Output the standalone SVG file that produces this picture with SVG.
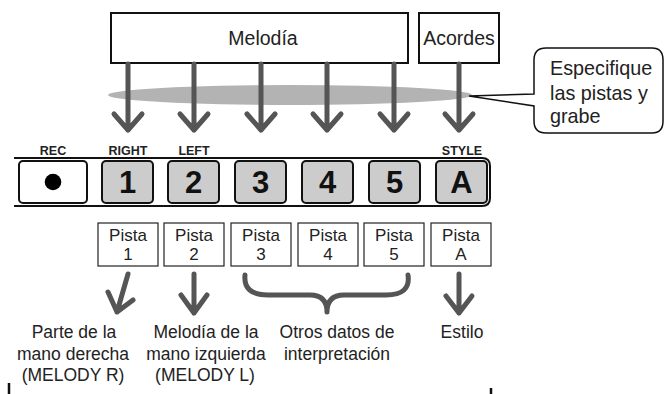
<svg xmlns="http://www.w3.org/2000/svg" width="664" height="394" viewBox="0 0 664 394">
<style>
text{font-family:"Liberation Sans",Arial,sans-serif;fill:#222}
.t19{font-size:19.5px;text-anchor:middle}
.t17{font-size:17.5px;text-anchor:middle}
.tp{font-size:17px;text-anchor:middle}
.tc{font-size:19.8px}
.lbl{font-size:12.5px;text-anchor:middle;font-weight:bold;fill:#222}
.num{font-size:31px;font-weight:bold;text-anchor:middle;fill:#111}
.box{fill:#fff;stroke:#111;stroke-width:2}
.pbox{fill:#fff;stroke:#222;stroke-width:1.2}
.btn{fill:#ccc;stroke:#111;stroke-width:2}
.arr{fill:none;stroke:#555;stroke-width:5;stroke-linecap:round;stroke-linejoin:round}
</style>
<defs>
<path id="down" d="M0,0 V66 M-14,50 L0,66 L14,50"/>
</defs>
<ellipse id="band" cx="290" cy="95" rx="182" ry="10" fill="#b3b3b3"/>
<g id="melodia"><rect class="box" x="111" y="13" width="297" height="50"/><text class="t19" x="263" y="45">Melodía</text></g>
<g id="acordes"><rect class="box" x="419" y="13" width="80" height="50"/><text class="t19" x="459" y="45">Acordes</text></g>
<g id="callout">
<path d="M546,48 H652 Q663,48 663,60 V121 Q663,133 652,133 H546 Q534,133 534,121 V106 L469,96 L534,94 V60 Q534,48 546,48 Z" fill="#fff" stroke="#111" stroke-width="1.5"/>
<text class="tc" x="550" y="75">Especifique</text>
<text class="tc" x="550" y="100">las pistas y</text>
<text class="tc" x="550" y="123">grabe</text>
</g>
<g id="connectors">
<use href="#down" class="arr" x="128" y="64"/>
<use href="#down" class="arr" x="194" y="64"/>
<use href="#down" class="arr" x="261" y="64"/>
<use href="#down" class="arr" x="327" y="64"/>
<use href="#down" class="arr" x="394" y="64"/>
<use href="#down" class="arr" x="459" y="64"/>
<path class="arr" d="M128,274 L117,312 M108,292 L117,312 L133,300"/>
<path class="arr" d="M194,274 V313 M181,295 L194,313 L207,295"/>
<path class="arr" d="M459,274 V313 M446,296 L459,313 L472,296"/>
<path class="arr" d="M245,275 Q243,295 268,295 H310 Q327,295 327,312 Q327,295 344,295 H386 Q411,295 408,275"/>
</g>
<g id="bar"><path d="M14,158 H482 Q490,158 490,166 V198 Q490,206 482,206 H14" fill="none" stroke="#111" stroke-width="2"/></g>
<g id="rec"><text class="lbl" x="53" y="155">REC</text><rect x="19" y="161" width="68" height="42" rx="4" fill="#fff" stroke="#111" stroke-width="2"/><circle cx="53" cy="182" r="8.3" fill="#000"/></g>
<g id="b1"><text class="lbl" x="128" y="155">RIGHT</text><rect class="btn" x="102" y="161" width="51" height="42" rx="4"/><text class="num" x="127.5" y="193">1</text></g>
<g id="b2"><text class="lbl" x="194" y="155">LEFT</text><rect class="btn" x="168" y="161" width="51" height="42" rx="4"/><text class="num" x="193.5" y="193">2</text></g>
<g id="b3"><rect class="btn" x="235" y="161" width="51" height="42" rx="4"/><text class="num" x="260.5" y="193">3</text></g>
<g id="b4"><rect class="btn" x="302" y="161" width="51" height="42" rx="4"/><text class="num" x="327.5" y="193">4</text></g>
<g id="b5"><rect class="btn" x="369" y="161" width="51" height="42" rx="4"/><text class="num" x="394.5" y="193">5</text></g>
<g id="bA"><text class="lbl" x="462" y="155">STYLE</text><rect class="btn" x="436" y="161" width="51" height="42" rx="4"/><text class="num" x="461.5" y="193">A</text></g>
<g id="p1"><rect class="pbox" x="98" y="223" width="60" height="43"/><text class="tp" x="128" y="241">Pista</text><text class="tp" x="128" y="260">1</text></g>
<g id="p2"><rect class="pbox" x="164" y="223" width="60" height="43"/><text class="tp" x="194" y="241">Pista</text><text class="tp" x="194" y="260">2</text></g>
<g id="p3"><rect class="pbox" x="231" y="223" width="60" height="43"/><text class="tp" x="261" y="241">Pista</text><text class="tp" x="261" y="260">3</text></g>
<g id="p4"><rect class="pbox" x="298" y="223" width="60" height="43"/><text class="tp" x="328" y="241">Pista</text><text class="tp" x="328" y="260">4</text></g>
<g id="p5"><rect class="pbox" x="364" y="223" width="60" height="43"/><text class="tp" x="394" y="241">Pista</text><text class="tp" x="394" y="260">5</text></g>
<g id="pA"><rect class="pbox" x="431" y="223" width="60" height="43"/><text class="tp" x="461" y="241">Pista</text><text class="tp" x="461" y="260">A</text></g>
<g id="d1"><text class="t17" x="74" y="338">Parte de la</text><text class="t17" x="73" y="360">mano derecha</text><text class="t17" x="73" y="381">(MELODY R)</text></g>
<g id="d2"><text class="t17" x="206" y="338">Melodía de la</text><text class="t17" x="206" y="360">mano izquierda</text><text class="t17" x="205" y="381">(MELODY L)</text></g>
<g id="d3"><text class="t17" x="337" y="338">Otros datos de</text><text class="t17" x="337" y="360">interpretación</text></g>
<g id="d4"><text class="t17" x="462" y="338">Estilo</text></g>
<g id="ticks" stroke="#111" stroke-width="2.5"><line x1="9" y1="383" x2="9" y2="394"/><line x1="491" y1="388" x2="491" y2="394"/></g>
</svg>
